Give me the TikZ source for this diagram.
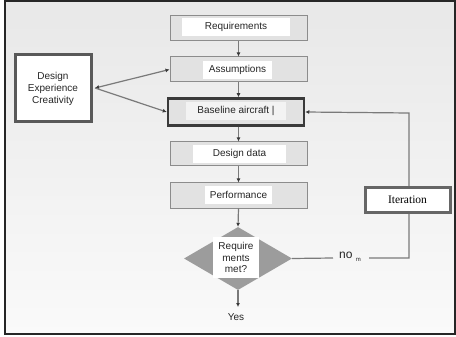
\documentclass[tikz,border=0pt]{standalone}
\usepackage{fontspec}
\setmainfont{Liberation Sans}
\newfontfamily\serifx{Liberation Serif}
\usetikzlibrary{arrows.meta,shapes.geometric}
\definecolor{boxfill}{HTML}{E2E2E2}
\definecolor{boxline}{HTML}{8C8C8C}
\definecolor{conline}{HTML}{7A7A7A}
\definecolor{darkline}{HTML}{3A3A3A}
\definecolor{diafill}{HTML}{9C9C9C}
\tikzset{
  box/.style={draw=boxline, fill=boxfill, line width=1pt, minimum width=137pt, minimum height=25pt, inner sep=0pt},
  inbox/.style={fill=white, minimum height=18pt, inner sep=0pt, font=\fontsize{10}{12}\selectfont, text=black!85},
  conn/.style={draw=conline, line width=1.2pt},
  tip/.style={-{Latex[length=4pt,width=4pt,color=darkline]}},
  thickbox/.style={draw=darkline, fill=white, line width=3pt, inner sep=0pt},
  lbl/.style={font=\fontsize{10}{12}\selectfont, text=black!85, align=center, inner sep=0pt}
}
\begin{document}
\begin{tikzpicture}[x=1pt,y=-1pt]
\useasboundingbox (0,0) rectangle (456,337);
\shade[top color=black!9, bottom color=black!2] (5,1) rectangle (455,334);
\draw[line width=2pt, draw=black!85] (5,1) rectangle (455,334);

% main column
\node[box] (req) at (238.5,28) {};
\node[inbox, minimum width=108pt] (reqt) at (236,27) {Requirements};
\node[box] (ass) at (238.5,69.5) {};
\node[inbox, minimum width=69pt] (asst) at (237.5,70) {Assumptions};
\node[box, draw=darkline, line width=2.5pt, minimum width=136pt, minimum height=27pt] (base) at (236,112) {};
\node[inbox, fill=boxfill!40, minimum width=100pt] (baset) at (236,111) {Baseline aircraft |};
\node[box, minimum height=24pt] (dd) at (238.5,154) {};
\node[inbox, minimum width=93pt] (ddt) at (239.5,154) {Design data};
\node[box] (perf) at (238.5,195.5) {};
\node[inbox, minimum width=67pt] (perft) at (238.5,195) {Performance};

\node[shape=diamond, fill=diafill, draw=none, minimum width=108pt, minimum height=63pt, inner sep=0pt] (dec) at (238,258.5) {};
\node[lbl, fill=white, minimum width=46pt, minimum height=41pt, font=\fontsize{10}{11.3}\selectfont] (dect) at (236,257.5) {Require\\ments\\met?};

\node[lbl] (yes) at (236,317) {Yes};

% left box
\node[thickbox, draw=black!65, minimum width=76pt, minimum height=67pt] (dex) at (53,88.5) {};
\node[lbl, font=\fontsize{10}{12}\selectfont] (dext) at (53,89) {Design\\Experience\\Creativity};
\coordinate (dexr) at (95,88);

% iteration
\coordinate (cTop) at (409,113);
\coordinate (cBot) at (409,258);
\node[lbl, font=\fontsize{12}{14}\selectfont] (no) at (350,257) {no {\fontsize{6}{6}\selectfont\raisebox{-3pt}{m}}};

\draw[conn] (dec.east) -- (333,258);
\draw[conn, tip] (369,258) -- (cBot) -- (cTop) -- (base.east);

\node[thickbox, draw=black!60, minimum width=85pt, minimum height=24pt, font=\serifx\fontsize{11.5}{13}\selectfont] (iter) at (407.5,200) {Iteration};

% vertical arrows
\draw[conn, tip] (req.south) -- (ass.north);
\draw[conn, tip] (ass.south) -- (ass.south |- base.north);
\draw[conn, tip] (base.south -| dd.north) -- (dd.north);
\draw[conn, tip] (dd.south) -- (perf.north);
\draw[conn, tip] (perf.south) -- (dec.north);
\draw[conn, tip] (dec.south) -- (238,307);

% left arrows
\draw[conn, {Latex[length=4pt,width=4pt,color=darkline]}-{Latex[length=4pt,width=4pt,color=darkline]}] (dexr) -- (ass.west);
\draw[conn, tip] (dexr) -- (base.west);
\end{tikzpicture}
\end{document}
